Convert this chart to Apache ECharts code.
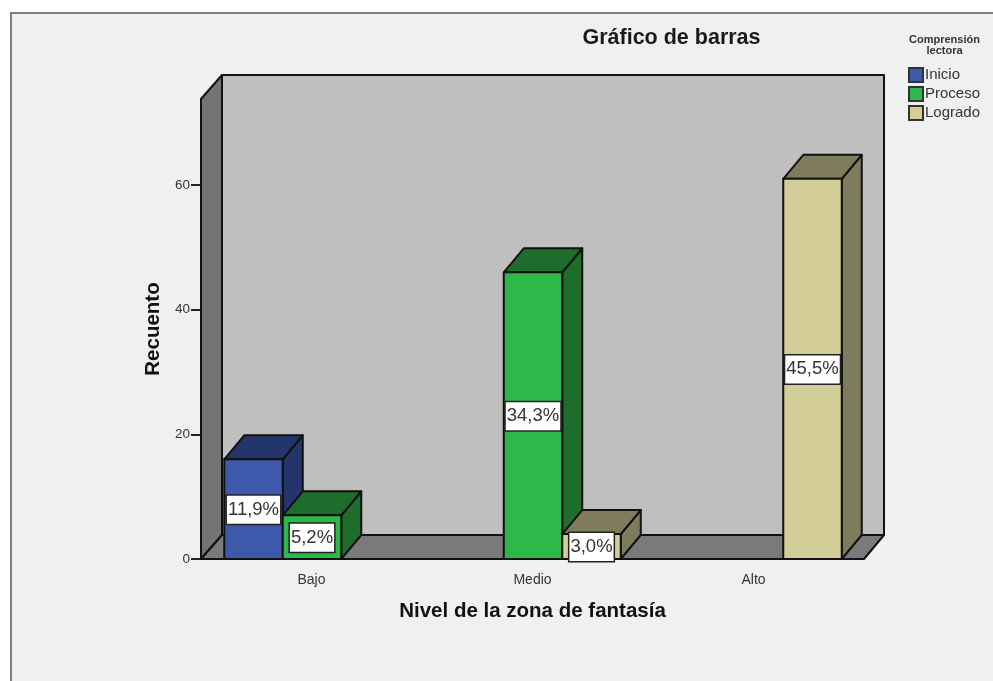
<!DOCTYPE html>
<html><head><meta charset="utf-8">
<style>html,body{margin:0;padding:0;background:#fff}#c{width:993px;height:681px}</style>
<script src="https://cdn.jsdelivr.net/npm/echarts@6/dist/echarts.min.js"></script>
</head><body><div id="c"></div>
<script>
const categories = ['Bajo', 'Medio', 'Alto'];
const inicio = [16, null, null];
const proceso = [7, 46, null];
const logrado = [null, 4, 61];
const inicioPct = ['11,9%', null, null];
const procesoPct = ['5,2%', '34,3%', null];
const logradoPct = [null, '3,0%', '45,5%'];
const yTicks = [0, 20, 40, 60];
const FONT = '"Liberation Sans", Arial, sans-serif';
const DX = 20, DY = 24, INK = '#111';

function wallItem(params, api) {
  const g = params.coordSys, x0 = g.x, x1 = g.x + g.width, y0 = g.y, y1 = g.y + g.height;
  const st = c => ({ fill: c, stroke: INK, lineWidth: 2, lineJoin: 'round' });
  const poly = (pts, c) => ({ type: 'polygon', shape: { points: pts }, style: st(c) });
  return { type: 'group', children: [
    poly([[x0 + DX + 1, y0 - DY], [x1 + DX, y0 - DY], [x1 + DX, y1 - DY], [x0 + DX + 1, y1 - DY]], '#bfbfbf'),
    poly([[x0, y0], [x0 + DX + 1, y0 - DY], [x0 + DX + 1, y1 - DY], [x0, y1]], '#747474'),
    poly([[x0, y1], [x0 + DX + 1, y1 - DY], [x1 + DX, y1 - DY], [x1, y1]], '#7a7a7a')
  ]};
}
function barRender(slot, front, side, pcts) {
  return function (params, api) {
    const i = api.value(0), v = api.value(1);
    const band = api.size([1, 0])[0], w = band * 0.2647;
    const base = api.coord([i, 0]), top = api.coord([i, v]);
    const l = base[0] + (slot - 1.5) * w + 0.5, r = l + w, t = top[1], b = base[1];
    const st = c => ({ fill: c, stroke: INK, lineWidth: 2, lineJoin: 'round' });
    return { type: 'group', children: [
      { type: 'polygon', shape: { points: [[r, b], [r + DX, b - DY], [r + DX, t - DY], [r, t]] }, style: st(side) },
      { type: 'polygon', shape: { points: [[l, t], [l + DX, t - DY], [r + DX, t - DY], [r, t]] }, style: st(side) },
      { type: 'rect', shape: { x: l, y: t, width: w, height: b - t }, style: st(front) },
      { type: 'text', x: (l + r) / 2, y: (t + b) / 2 + 0.5, style: {
        text: pcts[i], font: '18.5px ' + FONT, fill: '#333', align: 'center', verticalAlign: 'middle',
        backgroundColor: '#fff', borderColor: '#222', borderWidth: 1.5, padding: [5, 1, 4, 1]
      } }
    ]};
  };
}
function barSeries(name, vals, slot, front, side, pcts) {
  return { type: 'custom', name, itemStyle: { color: front, borderColor: '#333', borderWidth: 1.5 },
    encode: { x: 0, y: 1 }, clip: false,
    data: vals.map((v, i) => [i, v]).filter(d => d[1] !== null),
    renderItem: barRender(slot, front, side, pcts) };
}
const chart = echarts.init(document.getElementById('c'), null, { renderer: 'canvas' });
chart.setOption({
  animation: false,
  backgroundColor: '#ffffff',
  graphic: [
    { type: 'rect', z: -10, shape: { x: 11, y: 13, width: 990, height: 680 }, style: { fill: '#f0f0f0', stroke: '#808080', lineWidth: 2 } }
  ],
  title: [
    { text: 'Gráfico de barras', left: 666.5, top: 22, textAlign: 'center', textStyle: { fontFamily: FONT, fontSize: 21.5, fontWeight: 'bold', color: '#1a1a1a' } },
    { text: 'Comprensión\nlectora', left: 939.5, top: 29, textAlign: 'center', textStyle: { fontFamily: FONT, fontSize: 11, lineHeight: 11, fontWeight: 'bold', color: '#333' } }
  ],
  legend: {
    left: 903, top: 62, orient: 'vertical', itemWidth: 14, itemHeight: 14, itemGap: 3, icon: 'rect',
    selectedMode: false, data: ['Inicio', 'Proceso', 'Logrado'],
    textStyle: { fontFamily: FONT, fontSize: 15, color: '#333', padding: [0, 0, 0, -3] }
  },
  grid: { left: 201, right: 129, top: 99, bottom: 122 },
  xAxis: {
    type: 'category', data: categories,
    name: 'Nivel de la zona de fantasía', nameLocation: 'middle', nameGap: 42,
    nameTextStyle: { fontFamily: FONT, fontSize: 20.5, fontWeight: 'bold', color: '#111' },
    axisLine: { show: false },
    axisTick: { alignWithLabel: true, length: 9, lineStyle: { color: '#222', width: 2 } },
    axisLabel: { fontFamily: FONT, fontSize: 14, color: '#333', margin: 14 }
  },
  yAxis: {
    type: 'value', min: 0, max: 73.8, interval: 20,
    name: 'Recuento', nameLocation: 'middle', nameGap: 37, nameRotate: 90,
    nameTextStyle: { fontFamily: FONT, fontSize: 20.5, fontWeight: 'bold', color: '#111' },
    splitLine: { show: false },
    axisLine: { show: false },
    axisTick: { show: true, length: 10, customValues: yTicks, lineStyle: { color: '#222', width: 2 } },
    axisLabel: { fontFamily: FONT, fontSize: 13.5, color: '#333', margin: 11, customValues: yTicks }
  },
  series: [
    { type: 'custom', name: 'Paredes', silent: true, clip: false, data: [[0, 0]], encode: { x: 0, y: 1 }, renderItem: wallItem, z: 1 },
    barSeries('Inicio', inicio, 0, '#3e58ac', '#24356b', inicioPct),
    barSeries('Proceso', proceso, 1, '#2db84a', '#1e6d2c', procesoPct),
    barSeries('Logrado', logrado, 2, '#d3ce97', '#7f7c5d', logradoPct)
  ]
});
</script></body></html>
